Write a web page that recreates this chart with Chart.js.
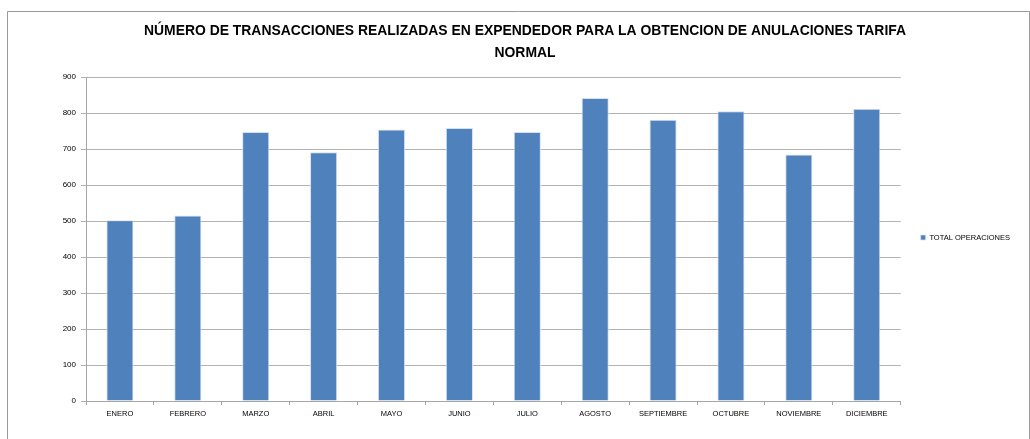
<!DOCTYPE html>
<html>
<head>
<meta charset="utf-8">
<script src="https://cdn.jsdelivr.net/npm/chart.js@4/dist/chart.umd.min.js"></script>
<style>
html,body{margin:0;padding:0;background:#fff;}
#wrap{width:1030px;height:439px;position:relative;}
</style>
</head>
<body>
<div id="wrap"><canvas id="c" width="1030" height="439"></canvas></div>
<script>
const titleLines = ["NÚMERO DE TRANSACCIONES REALIZADAS EN EXPENDEDOR PARA LA OBTENCION DE ANULACIONES TARIFA", "NORMAL"];
const categories = ["ENERO","FEBRERO","MARZO","ABRIL","MAYO","JUNIO","JULIO","AGOSTO","SEPTIEMBRE","OCTUBRE","NOVIEMBRE","DICIEMBRE"];
const seriesName = "TOTAL OPERACIONES";
const totalOperaciones = [502, 515, 747, 691, 754, 758, 747, 842, 781, 805, 685, 812];
const yTicks = [0,100,200,300,400,500,600,700,800,900];

const FONT = "'Liberation Sans', Arial, sans-serif";
// fit title width to ~763px
const mctx = document.createElement('canvas').getContext('2d');
mctx.font = "bold 100px " + FONT;
const titleSize = Math.min(16, 763 / mctx.measureText(titleLines[0]).width * 100);

const framePlugin = {
  id: 'frame',
  afterLayout(chart) {
    const lg = chart.legend;
    if (lg) { lg.top += 18; lg.bottom += 18; }
  },
  beforeDraw(chart) {
    const ctx = chart.ctx;
    ctx.save();
    ctx.fillStyle = '#ffffff';
    ctx.fillRect(0, 0, chart.width, chart.height);
    ctx.strokeStyle = '#9a9a9a';
    ctx.lineWidth = 1;
    ctx.beginPath();
    ctx.moveTo(7.5, 439);
    ctx.lineTo(7.5, 11.5);
    ctx.lineTo(1029.5, 11.5);
    ctx.lineTo(1029.5, 439);
    ctx.stroke();
    ctx.restore();
  }
};

new Chart(document.getElementById('c'), {
  type: 'bar',
  data: {
    labels: categories,
    datasets: [{
      label: seriesName,
      data: totalOperaciones,
      backgroundColor: '#4F81BD',
      borderColor: '#d6e0ee',
      borderWidth: {top: 1, left: 1, right: 1, bottom: 0},
      barPercentage: 0.4,
      categoryPercentage: 1.0
    }]
  },
  options: {
    responsive: false,
    animation: false,
    devicePixelRatio: 1,
    layout: { padding: { left: 30, right: 10, top: 0, bottom: 0 } },
    plugins: {
      title: {
        display: true,
        text: titleLines,
        color: '#000',
        font: { family: FONT, size: titleSize, weight: 'bold', lineHeight: 22 / titleSize },
        padding: { top: 20, bottom: 13 }
      },
      legend: {
        display: true,
        position: 'right',
        labels: {
          boxWidth: 5,
          boxHeight: 5,
          padding: 20,
          color: '#000',
          font: { family: FONT, size: 7.5 }
        }
      },
      tooltip: { enabled: false }
    },
    scales: {
      x: {
        grid: { display: true, drawOnChartArea: false, drawTicks: true, tickLength: 4, color: '#a6a6a6' },
        border: { display: true, color: '#a6a6a6' },
        ticks: { color: '#000', font: { family: FONT, size: 7.5 }, padding: 4, maxRotation: 0, autoSkip: false },
        afterFit(scale) { scale.height = 38; }
      },
      y: {
        min: 0,
        max: 900,
        afterBuildTicks(scale) { scale.ticks = yTicks.map(v => ({ value: v })); },
        grid: { color: '#b3b3b3', drawTicks: true, tickLength: 5 },
        border: { display: true, color: '#a6a6a6' },
        ticks: { color: '#000', font: { family: FONT, size: 8 }, padding: 5 },
        afterFit(scale) { scale.width = 56; }
      }
    }
  },
  plugins: [framePlugin]
});
</script>
</body>
</html>
